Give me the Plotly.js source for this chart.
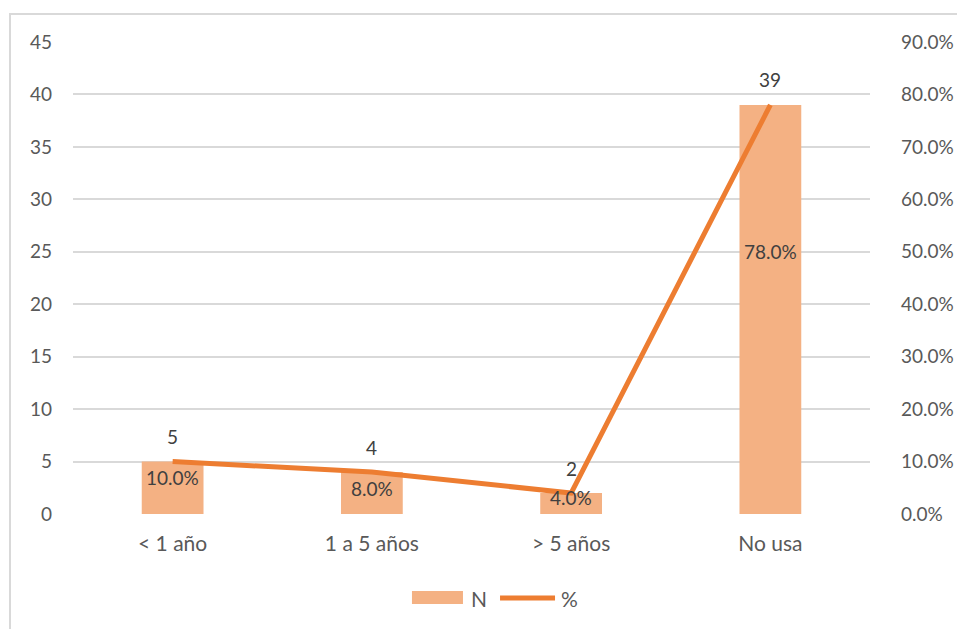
<!DOCTYPE html>
<html>
<head>
<meta charset="utf-8">
<script src="https://cdn.plot.ly/plotly-3.0.1.min.js"></script>
<style>
html,body{margin:0;padding:0;background:#fff;overflow:hidden;}
#frame{position:absolute;left:9px;top:13px;width:1000px;height:700px;border:2px solid #d9d9d9;box-sizing:border-box;}
#chart{position:absolute;left:0;top:0;width:957px;height:629px;}
</style>
</head>
<body>
<div id="frame"></div>
<div id="chart"></div>
<script>
var categories = ["< 1 año", "1 a 5 años", "> 5 años", "No usa"];
var countN = [5, 4, 2, 39];
var percent = [0.10, 0.08, 0.04, 0.78];
var leftTicks = [0, 5, 10, 15, 20, 25, 30, 35, 40, 45];
var rightTicks = [0, 0.1, 0.2, 0.3, 0.4, 0.5, 0.6, 0.7, 0.8, 0.9];
var seriesNames = ["N", "%"];

var pctShift = [-16, -16, -4, -147];
var FONT = "Lato, 'Liberation Sans', sans-serif";
var FS = 19, FS_TXT = 21;
var BAR_COLOR = "#f4b183", LINE_COLOR = "#ed7d31";

var bar = {
  type: "bar", name: seriesNames[0], x: categories, y: countN,
  marker: {color: BAR_COLOR}, width: 0.31, hoverinfo: "none"
};
var line = {
  type: "scatter", mode: "lines", name: seriesNames[1], x: categories, y: percent,
  yaxis: "y2", line: {color: LINE_COLOR, width: 5}, hoverinfo: "none"
};

var annotations = [];
categories.forEach(function(c, i){
  annotations.push({x: c, y: countN[i], xref: "x", yref: "y", text: String(countN[i]),
    showarrow: false, yshift: 25, font: {family: FONT, size: FS, color: "#404040"}});
  annotations.push({x: c, y: countN[i], xref: "x", yref: "y", text: (percent[i]*100).toFixed(1) + "%",
    showarrow: false, yshift: pctShift[i], font: {family: FONT, size: FS, color: "#404040"}});
});
// custom legend labels
annotations.push({xref: "paper", yref: "paper", x: 0.497, y: -0.178, xanchor: "left", yanchor: "middle",
  text: seriesNames[0], showarrow: false, font: {family: FONT, size: FS_TXT, color: "#595959"}});
annotations.push({xref: "paper", yref: "paper", x: 0.610, y: -0.178, xanchor: "left", yanchor: "middle",
  text: seriesNames[1], showarrow: false, font: {family: FONT, size: FS_TXT, color: "#595959"}});

var shapes = [
  {type: "rect", xref: "paper", yref: "paper", x0: 0.4253, x1: 0.4893, y0: -0.1907, y1: -0.1631,
    fillcolor: BAR_COLOR, line: {width: 0}},
  {type: "line", xref: "paper", yref: "paper", x0: 0.5358, x1: 0.6048, y0: -0.178, y1: -0.178,
    line: {color: LINE_COLOR, width: 5}}
];

var layout = {
  width: 957, height: 629,
  margin: {l: 73, r: 87, t: 42, b: 115},
  paper_bgcolor: "rgba(0,0,0,0)", plot_bgcolor: "rgba(0,0,0,0)",
  font: {family: FONT, size: FS, color: "#595959"},
  showlegend: false,
  xaxis: {type: "category", showgrid: false, zeroline: false, showline: false,
    ticks: "", ticklabelstandoff: 15, tickfont: {family: FONT, size: FS_TXT, color: "#595959"}},
  yaxis: {range: [0, 45], tickvals: leftTicks, ticktext: leftTicks.map(String),
    showgrid: true, gridcolor: "#d9d9d9", gridwidth: 2, zeroline: false, showline: false,
    ticks: "", ticklabelstandoff: 20, tickfont: {family: FONT, size: FS, color: "#595959"}},
  yaxis2: {range: [0, 0.9], overlaying: "y", side: "right", tickvals: rightTicks,
    ticktext: rightTicks.map(function(v){return (v*100).toFixed(1) + "%";}),
    showgrid: false, zeroline: false, showline: false, ticks: "", ticklabelstandoff: 30,
    tickfont: {family: FONT, size: FS, color: "#595959"}},
  annotations: annotations,
  shapes: shapes
};

Plotly.newPlot("chart", [bar, line], layout, {displayModeBar: false, staticPlot: true});
</script>
</body>
</html>
